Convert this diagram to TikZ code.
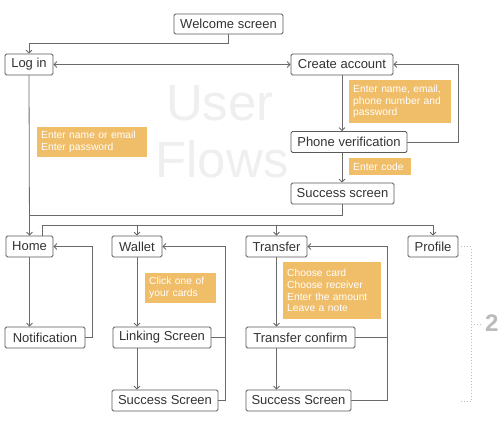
\documentclass[tikz,border=0pt]{standalone}
\usepackage{fontspec}
\setmainfont{Liberation Sans}
\usetikzlibrary{arrows.meta,calc}
\definecolor{boxline}{HTML}{5A5A5A}
\definecolor{wirec}{HTML}{6A6A6A}
\definecolor{notec}{HTML}{F0BD68}
\definecolor{txt}{HTML}{333333}
\definecolor{wmc}{HTML}{EFEFEF}
\definecolor{dotc}{HTML}{BBBBBB}
\begin{document}
\begin{tikzpicture}[x=1pt,y=-1pt,
  screen/.style={draw=boxline, line width=0.8pt, rounded corners=1.5pt, fill=white, text=txt,
    font=\fontsize{13}{15}\selectfont, minimum height=21pt, inner xsep=2pt, inner ysep=0pt},
  memo/.style={fill=notec, text=white, font=\fontsize{10.3}{11.7}\selectfont, align=left,
    inner xsep=4pt, inner ysep=2pt, anchor=west},
  wire/.style={draw=wirec, line width=0.8pt},
  arr/.style={wire, -{Straight Barb[length=3pt,width=6pt]}},
  biarr/.style={wire, {Straight Barb[length=3pt,width=6pt]}-{Straight Barb[length=3pt,width=6pt]}},
  dotline/.style={draw=dotc, line width=0.9pt, dash pattern=on 1pt off 2pt},
  watermark/.style={text=wmc, font=\fontsize{51}{55}\selectfont, anchor=base, inner sep=0pt}]
\useasboundingbox (0,0) rectangle (500,426);
\fill[white] (0,0) rectangle (500,426);

% watermark
\node[watermark] (wmuser) at (220,120) {User};
\node[watermark] (wmflows) at (222,177) {Flows};

% screens
\node[screen, minimum width=109pt, minimum height=20pt] (welcome) at (228.5,24) {Welcome screen};
\node[screen, minimum width=48pt] (login) at (29,64.5) {Log in};
\node[screen, minimum width=102pt] (create) at (342,64.5) {Create account};
\node[screen, minimum width=116pt] (phone) at (349,142) {Phone verification};
\node[screen, minimum width=103pt] (succ1) at (342.5,193.5) {Success screen};
\node[screen, minimum width=47pt] (home) at (29.5,246.5) {Home};
\node[screen, minimum width=80pt] (notif) at (45,337.5) {Notification};
\node[screen, minimum width=50pt] (wallet) at (137,246.5) {Wallet};
\node[screen, minimum width=98pt] (link) at (162,337.5) {Linking Screen};
\node[screen, minimum width=106pt] (wsucc) at (165,400.5) {Success Screen};
\node[screen, minimum width=61pt] (transfer) at (276.5,246.5) {Transfer};
\node[screen, minimum width=109pt] (tconf) at (300.5,337.5) {Transfer confirm};
\node[screen, minimum width=105pt] (tsucc) at (298.5,400.5) {Success Screen};
\node[screen, minimum width=50pt] (profile) at (433,246.5) {Profile};

% notes
\node[memo, text width=102pt, minimum height=30pt] (m1) at (37,142) {Enter name or email\\Enter password};
\node[memo, text width=94pt, minimum height=43pt] (m2) at (349,101.5) {Enter name, email,\\phone number and\\password};
\node[memo, text width=54pt, minimum height=17pt] (m3) at (349,166.5) {Enter code};
\node[memo, text width=63pt, minimum height=30pt] (m4) at (145,288) {Click one of\\your cards};
\node[memo, text width=90pt, minimum height=57pt] (m5) at (283,290.5) {Choose card\\Choose receiver\\Enter the amount\\Leave a note};

% top flow
\coordinate (wbend) at (228.5,43);
\draw[arr] (welcome.south) -- (wbend) -| (login.north);
\draw[biarr] (login.east) -- (create.west);
\draw[arr] (create.south) -- (create.south |- phone.north);
\coordinate (cloop) at (458,64.5);
\draw[arr] (phone.east) -| (cloop) -- (create.east);
\draw[arr] (create.south |- phone.south) -- (create.south |- succ1.north);
\coordinate (join) at (29,215);
\draw[wire] (succ1.south) |- (join);
\draw[arr] (login.south) -- (home.north);

% distribution bus
\coordinate (bus) at (42,225);
\draw[arr] (home.north -| bus) -- (bus) -| (profile.north);
\draw[arr] (wallet.north |- bus) -- (wallet.north);
\draw[arr] (transfer.north |- bus) -- (transfer.north);

% home
\draw[arr] (home.south) -- (home.south |- notif.north);
\coordinate (hloop) at (92,246.5);
\draw[arr] (notif.east) -| (hloop) -- (home.east);

% wallet
\draw[arr] (wallet.south) -- (wallet.south |- link.north);
\draw[arr] (wallet.south |- link.south) -- (wallet.south |- wsucc.north);
\coordinate (wloop) at (225,246.5);
\draw[arr] (wsucc.east) -| (wloop) -- (wallet.east);
\draw[wire] (link.east) -- (link.east -| wloop);

% transfer
\draw[arr] (transfer.south) -- (transfer.south |- tconf.north);
\draw[arr] (transfer.south |- tconf.south) -- (transfer.south |- tsucc.north);
\coordinate (tloop) at (387,246.5);
\draw[arr] (tsucc.east) -| (tloop) -- (transfer.east);
\draw[wire] (tconf.east) -- (tconf.east -| tloop);

% profile bracket
\coordinate (d0) at (461,246.5);
\coordinate (d1) at (471,246.5);
\coordinate (d2) at (471,401);
\coordinate (d3) at (461,401);
\coordinate (d4) at (471,324);
\coordinate (d5) at (483,324);
\draw[dotline] (d0) -- (d1) -- (d2) -- (d3);
\draw[dotline] (d4) -- (d5);
\node[text=dotc, font=\fontsize{24}{26}\selectfont\bfseries, inner sep=0pt, anchor=west] (two) at (485,323.5) {2};
\end{tikzpicture}
\end{document}
